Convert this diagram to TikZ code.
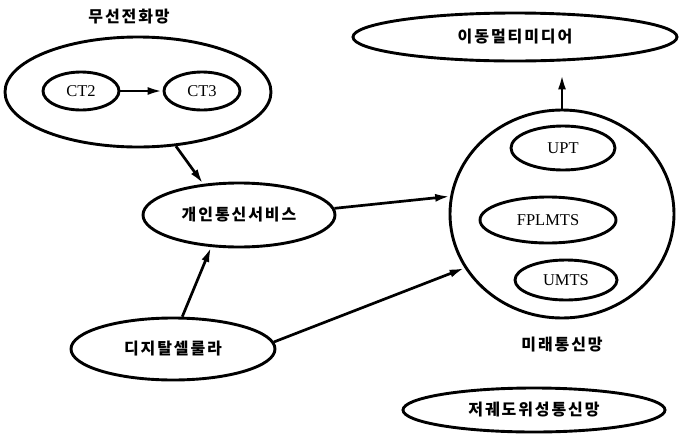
\documentclass[tikz,border=0pt]{standalone}
\usepackage{fontspec}
\setmainfont{Liberation Serif}
\newfontfamily\kr{Noto Sans CJK KR}[LetterSpace=12]
\usepackage{tikz}
\usetikzlibrary{arrows.meta,positioning,shapes.geometric}

\begin{document}
\begin{tikzpicture}[
    x=1pt, y=-1pt,
    oval/.style={ellipse, draw, line width=2.9pt, inner sep=0pt,
                font=\fontsize{16.5}{18}\selectfont},
    krlabel/.style={font=\fontsize{16}{18}\selectfont\kr\bfseries},
    link/.style={->, line width=2.7pt},
    >={Latex[length=15pt,width=8pt]}
]
\useasboundingbox (0,0) rectangle (680,437);

% wireless telephone network
\node[krlabel] (wlabel) at (129,17) {무선전화망};
\node[oval, minimum width=266pt, minimum height=110pt] (wireless) at (138,92) {};
\node[oval, minimum width=76pt, minimum height=38pt] (ct2) at (81,91) {CT2};
\node[oval, minimum width=76pt, minimum height=38pt] (ct3) at (202,91) {CT3};

\node[oval, krlabel, minimum width=192pt, minimum height=64pt] (pcs) at (239,215) {개인통신서비스};
\node[oval, krlabel, minimum width=204pt, minimum height=62pt] (digital) at (173,349) {디지탈셀룰라};
\node[oval, krlabel, minimum width=324pt, minimum height=48pt] (mobile) at (515,37) {이동멀티미디어};

% future network
\node[oval, minimum width=224pt, minimum height=208pt] (future) at (562,214) {};
\node[oval, minimum width=104pt, minimum height=44pt] (upt) at (563,148) {UPT};
\node[oval, minimum width=136pt, minimum height=46pt] (fplmts) at (548,220) {FPLMTS};
\node[oval, minimum width=102pt, minimum height=40pt] (umts) at (566,280) {UMTS};
\node[krlabel, below=14pt of future] (flabel) {미래통신망};

\node[oval, krlabel, minimum width=262pt, minimum height=44pt] (leo) at (534,410) {저궤도위성통신망};

\draw[link] (ct2) -- (ct3);
\draw[link] (wireless.-55) -- (pcs.139);
\draw[link] (pcs.4) -- (future.171);
\draw[link] (digital.74) -- (pcs.-131);
\draw[link] (digital.4) -- (future.-151);
\draw[link, shorten >=12pt] (future.north) -- (future.north |- mobile.south);
\end{tikzpicture}
\end{document}
